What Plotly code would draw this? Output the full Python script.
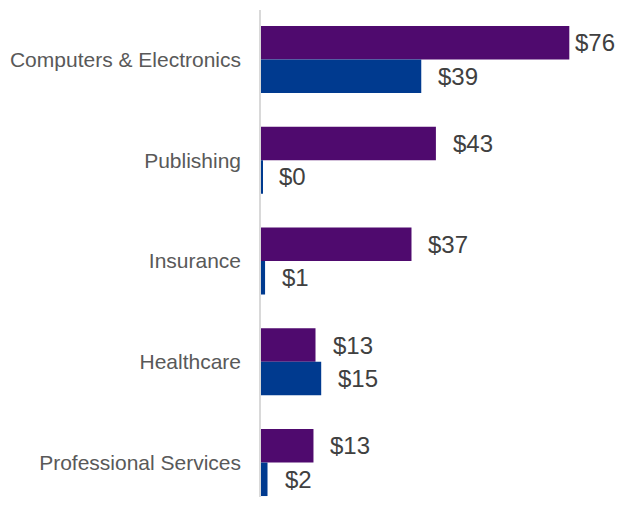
import plotly.graph_objects as go

categories = ["Computers & Electronics", "Publishing", "Insurance", "Healthcare", "Professional Services"]
series_a = [75.8, 43.0, 37.0, 13.4, 12.9]   # purple
series_b = [39.4, 0.3, 1.0, 14.8, 1.6]      # blue

PURPLE = "#4F0A6E"
BLUE = "#003A8F"

idx = list(range(len(categories)))
XMAX = 89.0
PLOT_W = 362
PX_PER_UNIT = PLOT_W / XMAX

fig = go.Figure()
fig.add_trace(go.Bar(y=idx, x=series_a, orientation="h", marker=dict(color=PURPLE, line=dict(width=0)), name="A"))
fig.add_trace(go.Bar(y=idx, x=series_b, orientation="h", marker=dict(color=BLUE, line=dict(width=0)), name="B"))

half = (1 - 0.335) / 4
annotations = []
for series, off in ((series_a, -half), (series_b, half)):
    for i, v in enumerate(series):
        label = "$%d" % round(v)
        # clamp offset so the label stays inside the canvas
        text_w = len(label) * 0.556 * 24
        avail = PLOT_W - 10 - v * PX_PER_UNIT - text_w
        shift = max(4, min(15, avail))
        annotations.append(dict(x=v, y=i + off, xref="x", yref="y", text=label, showarrow=False,
                                xanchor="left", yanchor="middle", xshift=shift,
                                font=dict(size=24, color="#404040", family="Liberation Sans, Arial, sans-serif")))

# page body has a default 8px margin; the figure is sized to fit the 623x506 window
fig.update_layout(
    width=607, height=490,
    margin=dict(l=253, r=0, t=2, b=1, autoexpand=False),
    barmode="group", bargap=0.335, bargroupgap=0,
    plot_bgcolor="white", paper_bgcolor="white",
    showlegend=False,
    font=dict(family="Liberation Sans, Arial, sans-serif"),
    annotations=annotations,
    xaxis=dict(range=[0, XMAX * 354 / PLOT_W], visible=False, showgrid=False, zeroline=False, automargin=False),
    yaxis=dict(range=[4.342, -0.491], tickvals=idx, ticktext=categories, showgrid=False, zeroline=False,
               showline=True, linecolor="#D9D9D9", linewidth=1.5, ticks="", ticklabelstandoff=14,
               automargin=False, tickfont=dict(size=21, color="#595959")),
)

fig.write_html("out.html")
